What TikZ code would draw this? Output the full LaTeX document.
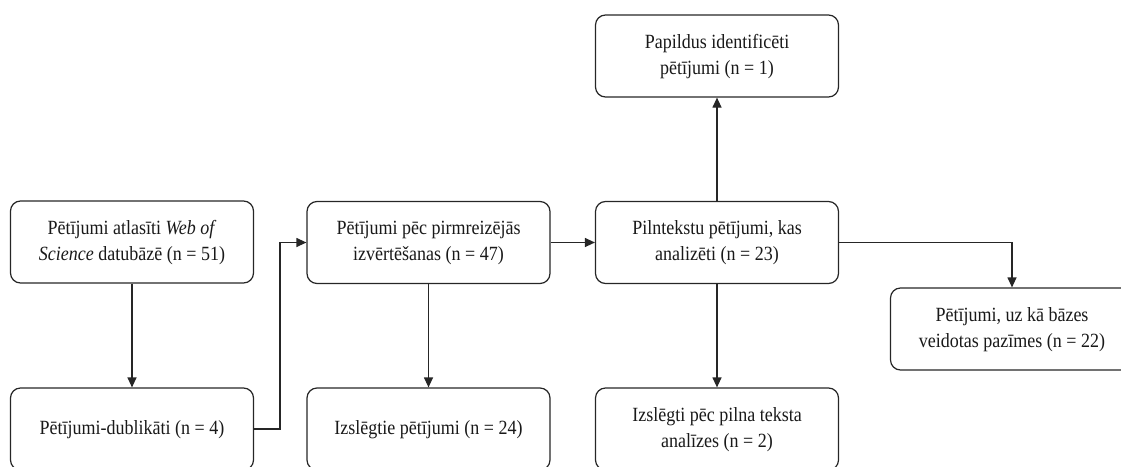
\documentclass[tikz,border=0pt]{standalone}
\usepackage{fontspec}
\usepackage{graphicx}
\setmainfont{Liberation Serif}
\usetikzlibrary{arrows.meta}
\newcommand\boxtext[1]{\scalebox{1}[1.12]{\begin{tabular}{@{}c@{}}#1\end{tabular}}}
\begin{document}
\begin{tikzpicture}[x=1pt,y=-1pt,
  box/.style={draw=black!85, line width=1.2pt, rounded corners=10pt, minimum width=243pt, minimum height=82pt, align=center, inner sep=0pt, font=\fontsize{18}{23.2}\selectfont, text=black!90},
  conn/.style={draw=black!85, line width=1.2pt, -{Triangle[length=10pt,width=9pt]}}]
\useasboundingbox (0,0) rectangle (1121,466);
\node[box] (b1) at (132,242) {\boxtext{Pētījumi atlasīti \textit{Web of}\\\textit{Science} datubāzē (n = 51)}};
\node[box] (b2) at (132,429) {\boxtext{Pētījumi-dublikāti (n = 4)}};
\node[box] (b3) at (428.5,242.5) {\boxtext{Pētījumi pēc pirmreizējās\\izvērtēšanas (n = 47)}};
\node[box] (b4) at (428.5,429) {\boxtext{Izslēgtie pētījumi (n = 24)}};
\node[box] (b5) at (717,242.5) {\boxtext{Pilntekstu pētījumi, kas\\analizēti (n = 23)}};
\node[box] (b6) at (717,56) {\boxtext{Papildus identificēti\\pētījumi (n = 1)}};
\node[box] (b7) at (717,429) {\boxtext{Izslēgti pēc pilna teksta\\analīzes (n = 2)}};
\node[box] (b8) at (1012,329) {\boxtext{Pētījumi, uz kā bāzes\\veidotas pazīmes (n = 22)}};
\coordinate (k1) at (280,429);
\coordinate (k2) at (280,242.5);
\draw[conn] (b1.south) -- (b2.north);
\draw[conn] (b2.east) -- (k1) -- (k2) -- (b3.west);
\draw[conn] (b3.east) -- (b5.west);
\draw[conn] (b3.south) -- (b4.north);
\draw[conn] (b5.north) -- (b6.south);
\draw[conn] (b5.south) -- (b7.north);
\draw[conn] (b5.east) -| (b8.north);
\end{tikzpicture}
\end{document}
